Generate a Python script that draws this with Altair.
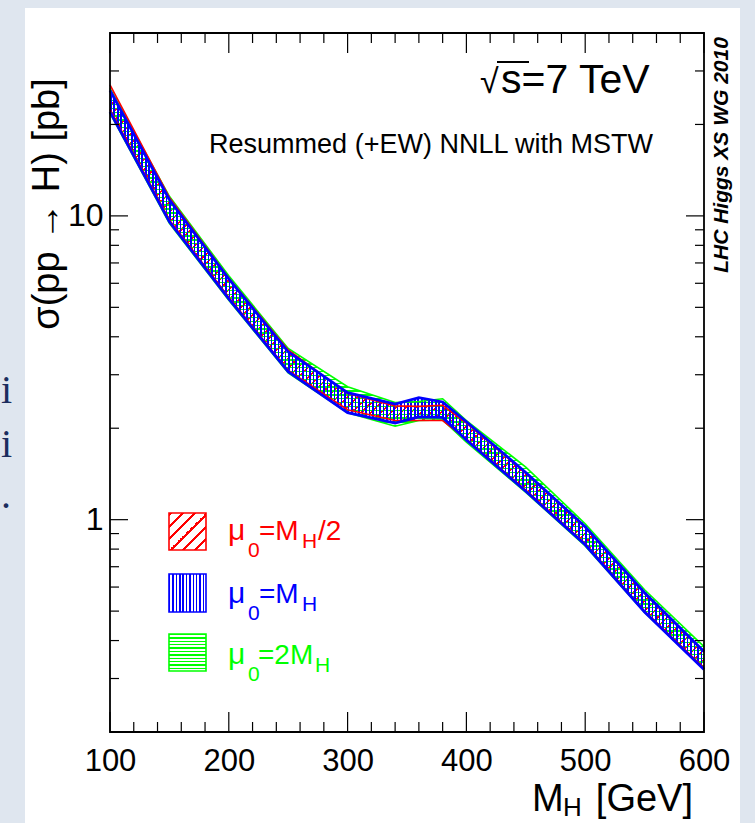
import altair as alt
import pandas as pd

# ---------------- data ----------------
masses = [100, 150, 200, 250, 300, 340, 360, 380, 400, 450, 500, 550, 600]

red_hi = [27.0, 11.5, 6.25, 3.62, 2.60, 2.37, 2.36, 2.38, 2.08, 1.42, 0.945, 0.572, 0.366]
red_lo = [22.4, 9.70, 5.40, 3.10, 2.30, 2.12, 2.12, 2.12, 1.84, 1.25, 0.835, 0.500, 0.325]

blue_hi = [25.9, 11.3, 6.20, 3.57, 2.62, 2.40, 2.52, 2.44, 2.10, 1.43, 0.948, 0.575, 0.368]
blue_lo = [22.0, 9.56, 5.33, 3.07, 2.25, 2.08, 2.18, 2.17, 1.83, 1.24, 0.827, 0.497, 0.321]

green_hi = [26.3, 11.6, 6.35, 3.66, 2.74, 2.43, 2.45, 2.50, 2.12, 1.49, 0.970, 0.588, 0.382]
green_lo = [21.8, 9.45, 5.28, 3.04, 2.25, 2.03, 2.12, 2.13, 1.80, 1.23, 0.820, 0.495, 0.322]

x_major = [100, 200, 300, 400, 500, 600]
x_minor = [v for v in range(120, 600, 20) if v % 100 != 0]
y_major = [1, 10]
y_minor = [0.2, 0.3, 0.4, 0.5, 0.6, 0.7, 0.8, 0.9, 2, 3, 4, 5, 6, 7, 8, 9, 20, 30, 40]

# ---------------- layout ----------------
OX, OY = 110, 33          # plot origin in page pixels
W, H = 594, 699
SANS = "Liberation Sans"
RED, BLUE, GREEN = "#ff0000", "#0000ff", "#00ff00"
CLEAR = "rgba(255,255,255,0)"

xs = alt.Scale(domain=[100, 600], nice=False, zero=False)
ys = alt.Scale(type="log", domain=[0.2, 40], nice=False)

xaxis = alt.Axis(values=x_major, ticks=False, domain=False, grid=False,
                 labelFontSize=31, labelFont=SANS, labelColor="black",
                 labelPadding=14, labelFlush=False, labelOverlap=False,
                 title=None, zindex=2)
yaxis = alt.Axis(values=y_major, ticks=False, domain=False, grid=False,
                 labelFontSize=32, labelFont=SANS, labelColor="black",
                 labelPadding=7, labelFlush=False, labelOverlap=False,
                 format="~g", title=None, zindex=2)


def stripes(color, n, frac, x2, y2):
    stops = []
    for i in range(n):
        a = round(i / n, 6)
        b = round((i + frac) / n, 6)
        c = round((i + 1) / n, 6)
        stops += [{"offset": a, "color": color}, {"offset": b, "color": color},
                  {"offset": b, "color": CLEAR}, {"offset": c, "color": CLEAR}]
    return {"gradient": "linear", "x1": 0, "y1": 0, "x2": x2, "y2": y2, "stops": stops}


one = pd.DataFrame({"k": [0]})


def band(lo, hi, grad):
    df = pd.DataFrame({"m": masses, "lo": lo, "hi": hi})
    return alt.Chart(df).mark_area(color=grad, opacity=1, interpolate="linear").encode(
        x=alt.X("m:Q", scale=xs, axis=xaxis),
        y=alt.Y("lo:Q", scale=ys, axis=yaxis),
        y2="hi:Q",
    )


def edges(lo, hi, color, width):
    df = pd.DataFrame({"m": masses, "lo": lo, "hi": hi})
    base = alt.Chart(df)
    l1 = base.mark_line(color=color, strokeWidth=width).encode(
        x=alt.X("m:Q", scale=xs, axis=xaxis), y=alt.Y("lo:Q", scale=ys, axis=yaxis))
    l2 = base.mark_line(color=color, strokeWidth=width).encode(
        x=alt.X("m:Q", scale=xs, axis=xaxis), y=alt.Y("hi:Q", scale=ys, axis=yaxis))
    return l1 + l2


def xticks(vals, length):
    df = pd.DataFrame({"v": vals})
    b = alt.Chart(df).mark_rule(color="black", strokeWidth=1.2)
    bot = b.encode(x=alt.X("v:Q", scale=xs, axis=xaxis), y=alt.value(H), y2=alt.value(H - length))
    top = b.encode(x=alt.X("v:Q", scale=xs, axis=xaxis), y=alt.value(0), y2=alt.value(length))
    return bot + top


def yticks(vals, length):
    df = pd.DataFrame({"v": vals})
    b = alt.Chart(df).mark_rule(color="black", strokeWidth=1.2)
    left = b.encode(y=alt.Y("v:Q", scale=ys, axis=yaxis), x=alt.value(0), x2=alt.value(length))
    right = b.encode(y=alt.Y("v:Q", scale=ys, axis=yaxis), x=alt.value(W), x2=alt.value(W - length))
    return left + right


def label(txt, x, y, size, color="black", align="left", angle=0, font=SANS,
          weight="normal", style="normal"):
    return alt.Chart(one).mark_text(
        text=txt, fontSize=size, color=color, align=align, angle=angle, font=font,
        fontWeight=weight, fontStyle=style, baseline="alphabetic",
    ).encode(x=alt.value(x - OX), y=alt.value(y - OY))


def box(x0, y0, x1, y1, grad, stroke):
    return alt.Chart(one).mark_rect(color=grad, stroke=stroke, strokeWidth=1.6, opacity=1).encode(
        x=alt.value(x0 - OX), x2=alt.value(x1 - OX), y=alt.value(y0 - OY), y2=alt.value(y1 - OY))


# white slide panel
panel = alt.Chart(one).mark_rect(color="white").encode(
    x=alt.value(25 - OX), x2=alt.value(740 - OX), y=alt.value(8 - OY), y2=alt.value(823 - OY))

red_grad = stripes(RED, 120, 0.22, 1, 1)
green_grad = stripes(GREEN, 150, 0.33, 0, 1)
blue_grad = stripes(BLUE, 170, 0.45, 1, 0)

bands = (band(red_lo, red_hi, red_grad) + band(green_lo, green_hi, green_grad)
         + band(blue_lo, blue_hi, blue_grad))
lines = (edges(green_lo, green_hi, GREEN, 1.6) + edges(red_lo, red_hi, RED, 1.6)
         + edges(blue_lo, blue_hi, BLUE, 2.8))

ticks = xticks(x_major, 20) + xticks(x_minor, 10) + yticks(y_major, 18) + yticks(y_minor, 9)

frame = alt.Chart(one).mark_rect(filled=False, stroke="black", strokeWidth=1.8).encode(
    x=alt.value(0), x2=alt.value(W), y=alt.value(0), y2=alt.value(H))

# legend
legend = (
    box(169, 513, 206, 550, stripes(RED, 6, 0.25, 1, 1), RED)
    + box(169, 574, 206, 612, stripes(BLUE, 11, 0.42, 1, 0), BLUE)
    + box(169, 634, 206, 671, stripes(GREEN, 11, 0.4, 0, 1), GREEN)
    + label("μ", 228, 540, 30, RED) + label("0", 248, 557, 21, RED)
    + label("=M", 259, 540, 28, RED) + label("H", 302, 548, 21, RED)
    + label("/2", 318, 540, 28, RED)
    + label("μ", 228, 603, 30, BLUE) + label("0", 248, 620, 21, BLUE)
    + label("=M", 259, 603, 28, BLUE) + label("H", 302, 611, 21, BLUE)
    + label("μ", 228, 664, 30, GREEN) + label("0", 248, 681, 21, GREEN)
    + label("=2M", 258, 664, 28, GREEN) + label("H", 315, 672, 21, GREEN)
)

sqrt_bar = alt.Chart(one).mark_rule(color="black", strokeWidth=2).encode(
    x=alt.value(497 - OX), x2=alt.value(529 - OX), y=alt.value(62 - OY))

texts = (
    label("√", 480, 93, 34) + sqrt_bar + label("s=7 TeV", 501, 93, 41)
    + label("Resummed (+EW) NNLL with MSTW", 431, 153, 27, align="center")
    + label("σ(pp → H) [pb]", 59, 204, 38, align="center", angle=270)
    + label("M", 532, 811, 38) + label("H", 563, 816, 26)
    + label("[GeV]", 693, 811, 38, align="right")
    + label("LHC Higgs XS WG 2010", 728, 155, 21, align="center", angle=270,
            weight="bold", style="italic")
    + label("i", 1, 403, 40, "#1b2d5e", font="Liberation Serif")
    + label("i", 1, 457, 40, "#1b2d5e", font="Liberation Serif")
    + label(".", 1, 508, 40, "#1b2d5e", font="Liberation Serif")
)

chart = alt.layer(panel, bands, lines, ticks, frame, legend, texts).properties(
    width=W, height=H,
    background="#dfe6ef",
    padding={"left": OX, "top": OY, "right": 755 - OX - W, "bottom": 823 - OY - H},
    autosize=alt.AutoSizeParams(type="none"),
).configure_view(strokeWidth=0).configure(font=SANS)

chart.save("out.html", embed_options={"renderer": "svg", "actions": False})
